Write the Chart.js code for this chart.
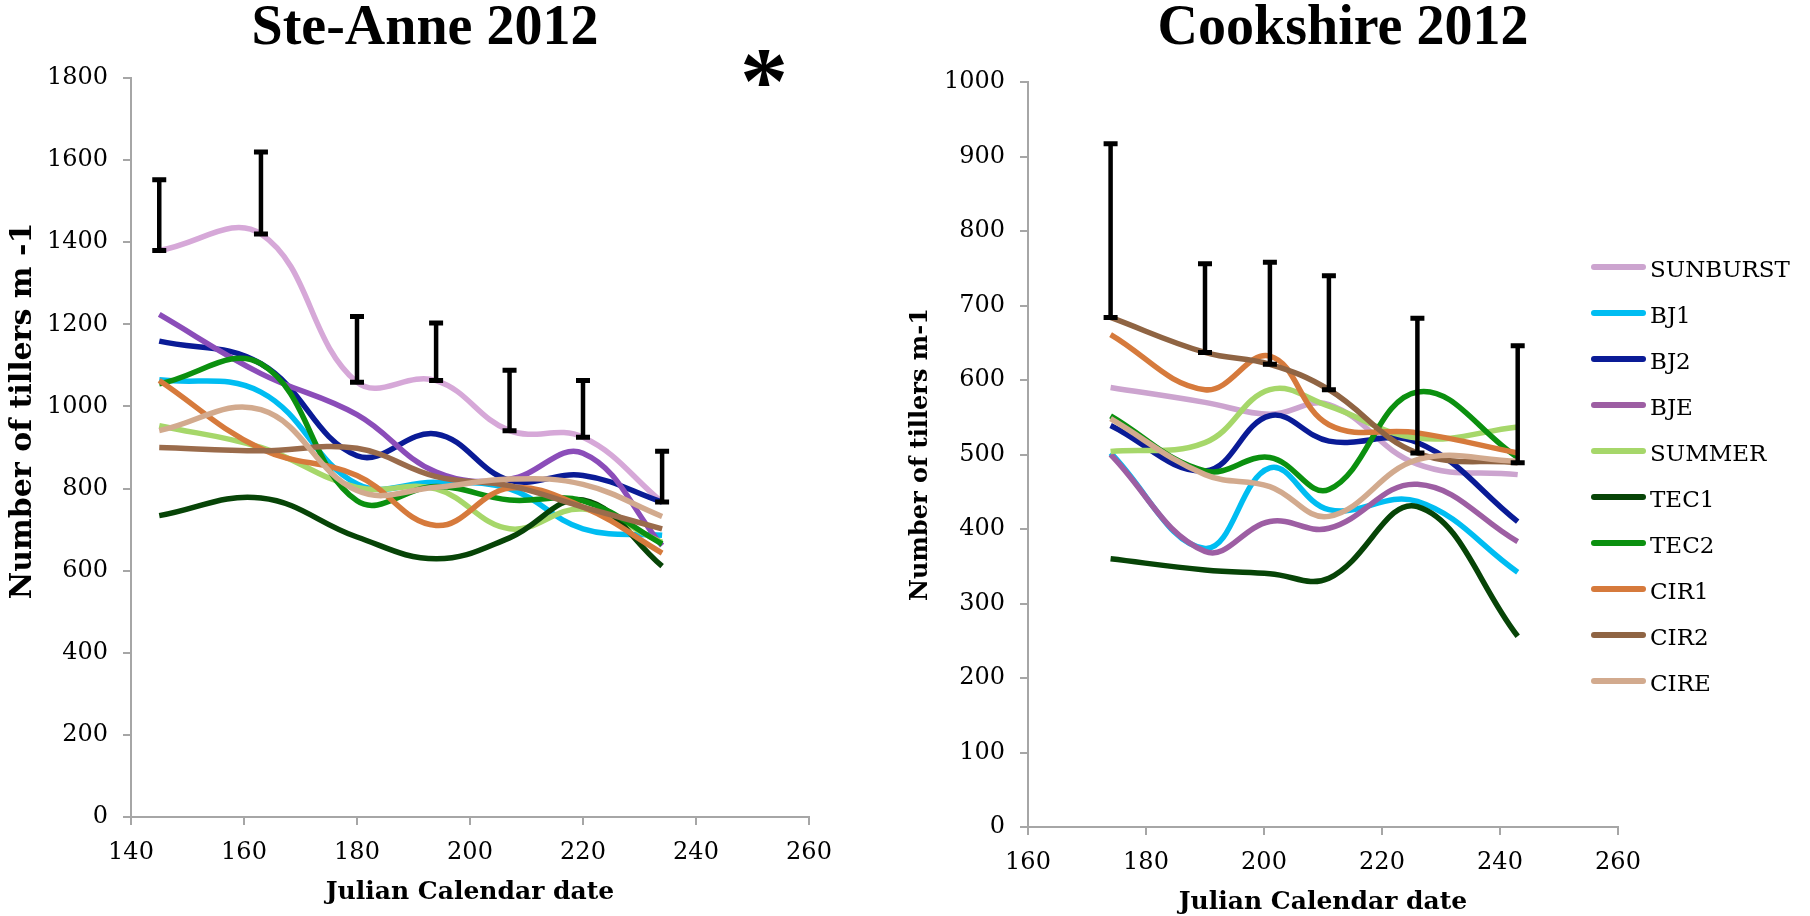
<!DOCTYPE html>
<html>
<head>
<meta charset="utf-8">
<script src="https://cdn.jsdelivr.net/npm/chart.js@4.4.1/dist/chart.umd.min.js"></script>
<style>
  html, body { margin: 0; padding: 0; background: #fff; }
  #wrap { position: relative; width: 1810px; height: 916px; overflow: hidden; }
  #steAnne { position: absolute; left: 0; top: 0; }
  #cookshire { position: absolute; left: 880px; top: 0; }
</style>
</head>
<body>
<div id="wrap">
  <canvas id="steAnne" width="880" height="916"></canvas>
  <canvas id="cookshire" width="930" height="916"></canvas>
</div>
<script>
// varieties, in legend order
const varieties = ["SUNBURST", "BJ1", "BJ2", "BJE", "SUMMER", "TEC1", "TEC2", "CIR1", "CIR2", "CIRE"];
const colors = ["#cca4cf", "#00bdf2", "#0a1b96", "#9d5ea3", "#a6d76a", "#074407", "#0b900f", "#d67a3c", "#8f6443", "#d2aa8e"];
const steColors = ["#d6a8d8", "#00bdf2", "#0a1b96", "#8b4db9", "#a6d76a", "#074407", "#0b900f", "#d67a3c", "#9a6b4b", "#d2aa8e"];

// Ste-Anne 2012
const steDays = [145, 163, 180, 194, 207, 220, 234];
const steSunburst = [1380, 1420, 1059, 1063, 941, 925, 767];
const steBJ1 = [1065, 1035, 811, 815, 799, 702, 686];
const steBJ2 = [1159, 1104, 880, 933, 820, 832, 767];
const steBJE = [1224, 1080, 980, 840, 823, 886, 661];
const steSummer = [953, 900, 803, 799, 702, 750, 669];
const steTEC1 = [734, 777, 682, 629, 680, 772, 611];
const steTEC2 = [1055, 1104, 770, 805, 772, 770, 665];
const steCIR1 = [1063, 897, 832, 710, 801, 755, 643];
const steCIR2 = [900, 892, 898, 829, 807, 755, 702];
const steCIRE = [941, 992, 795, 803, 823, 810, 732];
const steError = [172, 200, 160, 140, 147, 138, 124]; // on SUNBURST

// Cookshire 2012
const cookDays = [174, 190, 201, 211, 226, 243];
const cookSunburst = [590, 570, 554, 567, 487, 473];
const cookBJ1 = [502, 374, 482, 426, 437, 342];
const cookBJ2 = [539, 478, 552, 518, 516, 410];
const cookBJE = [500, 370, 410, 401, 460, 383];
const cookSummer = [504, 516, 587, 565, 522, 537];
const cookTEC1 = [360, 345, 340, 334, 430, 256];
const cookTEC2 = [552, 478, 496, 453, 584, 496];
const cookCIR1 = [661, 587, 632, 540, 529, 502];
const cookCIR2 = [684, 637, 621, 587, 502, 489];
const cookCIRE = [548, 473, 457, 417, 493, 491];
const cookError = [233, 119, 137, 153, 181, 157]; // on CIR2

const steSeries = [steSunburst, steBJ1, steBJ2, steBJE, steSummer, steTEC1, steTEC2, steCIR1, steCIR2, steCIRE];
const cookSeries = [cookSunburst, cookBJ1, cookBJ2, cookBJE, cookSummer, cookTEC1, cookTEC2, cookCIR1, cookCIR2, cookCIRE];

Chart.defaults.font.family = "'DejaVu Serif', serif";
Chart.defaults.color = "#000";

function makeDatasets(days, series, cols) {
  return series.map((vals, i) => ({
    label: varieties[i],
    data: days.map((d, j) => ({ x: d, y: vals[j] })),
    borderColor: cols[i],
    backgroundColor: cols[i],
    borderWidth: 5.5,
    pointRadius: 0,
    tension: 0.4,
    fill: false,
    order: -i,
  }));
}

// black "plus" error bars on one series
function errorBars(dsIndex, plus) {
  return {
    id: "errorBars",
    afterDatasetsDraw(chart) {
      const ctx = chart.ctx;
      const xs = chart.scales.x, ys = chart.scales.y;
      const pts = chart.data.datasets[dsIndex].data;
      ctx.save();
      ctx.strokeStyle = "#000";
      pts.forEach((p, i) => {
        const px = xs.getPixelForValue(p.x);
        const y0 = ys.getPixelForValue(p.y);
        const y1 = ys.getPixelForValue(p.y + plus[i]);
        ctx.lineWidth = 4.5;
        ctx.beginPath();
        ctx.moveTo(px, y0);
        ctx.lineTo(px, y1);
        ctx.stroke();
        ctx.lineWidth = 5;
        ctx.beginPath();
        ctx.moveTo(px - 7, y1);
        ctx.lineTo(px + 7, y1);
        ctx.moveTo(px - 7, y0);
        ctx.lineTo(px + 7, y0);
        ctx.stroke();
      });
      ctx.restore();
    }
  };
}

function headline(text, x, y, star) {
  return {
    id: "headline",
    afterDraw(chart) {
      const ctx = chart.ctx;
      ctx.save();
      ctx.fillStyle = "#000";
      ctx.textAlign = "center";
      ctx.textBaseline = "alphabetic";
      ctx.font = "bold 56px 'Liberation Serif'";
      ctx.fillText(text, x, y);
      if (star) {
        ctx.font = "bold 96px 'Liberation Serif'";
        ctx.fillText("*", star[0], star[1]);
      }
      ctx.restore();
    }
  };
}

const sideLegend = {
  id: "sideLegend",
  afterDraw(chart) {
    const ctx = chart.ctx;
    ctx.save();
    ctx.font = "23px 'DejaVu Serif'";
    ctx.fillStyle = "#000";
    ctx.textAlign = "left";
    ctx.textBaseline = "alphabetic";
    ctx.lineCap = "round";
    chart.data.datasets.forEach((ds, i) => {
      const y = 267 + i * 46;
      ctx.strokeStyle = ds.borderColor;
      ctx.lineWidth = 6;
      ctx.beginPath();
      ctx.moveTo(714, y);
      ctx.lineTo(763, y);
      ctx.stroke();
      ctx.fillText(ds.label, 770, y + 10);
    });
    ctx.restore();
  }
};

function axes(xMin, xMax, yMax, yStep, yW, xH, yTitleSize, yTitlePad, xTitlePad, xTitleLH, yTitleText) {
  const grid = { drawOnChartArea: false, color: "#a6a6a6", lineWidth: 2, tickLength: 8 };
  const border = { color: "#a6a6a6", width: 2 };
  return {
    x: {
      type: "linear", min: xMin, max: xMax,
      ticks: { stepSize: 20, padding: 13, font: { size: 24 }, format: { useGrouping: false } },
      grid, border,
      title: { display: true, text: "Julian Calendar date", padding: { top: 0, bottom: xTitlePad },
               font: { size: 25, weight: "bold", lineHeight: xTitleLH } },
      afterFit(s) { s.height = xH; }
    },
    y: {
      min: 0, max: yMax,
      ticks: { stepSize: yStep, padding: 15, font: { size: 24 }, format: { useGrouping: false } },
      grid, border,
      title: { display: true, text: yTitleText, padding: { top: yTitlePad, bottom: 0 },
               font: { size: yTitleSize, weight: "bold", lineHeight: 1.2 } },
      afterFit(s) { s.width = yW; }
    }
  };
}

new Chart(document.getElementById("steAnne"), {
  type: "line",
  data: { datasets: makeDatasets(steDays, steSeries, steColors) },
  options: {
    responsive: false,
    animation: false,
    layout: { padding: { left: 0, top: 78, right: 71, bottom: 0 } },
    plugins: { legend: { display: false }, tooltip: { enabled: false } },
    scales: axes(140, 260, 1800, 200, 131, 99, 30, 5, 9, 1.2, "       Number of tillers m -1")
  },
  plugins: [errorBars(0, steError), headline("Ste-Anne 2012", 425, 44, [764, 113])]
});

new Chart(document.getElementById("cookshire"), {
  type: "line",
  data: { datasets: makeDatasets(cookDays, cookSeries, colors) },
  options: {
    responsive: false,
    animation: false,
    layout: { padding: { left: 0, top: 82, right: 192, bottom: 0 } },
    plugins: { legend: { display: false }, tooltip: { enabled: false } },
    scales: axes(160, 260, 1000, 100, 148, 89, 24, 26, 0, 1.05, "Number of tillers m-1")
  },
  plugins: [errorBars(8, cookError), headline("Cookshire 2012", 463, 44), sideLegend]
});
</script>
</body>
</html>
